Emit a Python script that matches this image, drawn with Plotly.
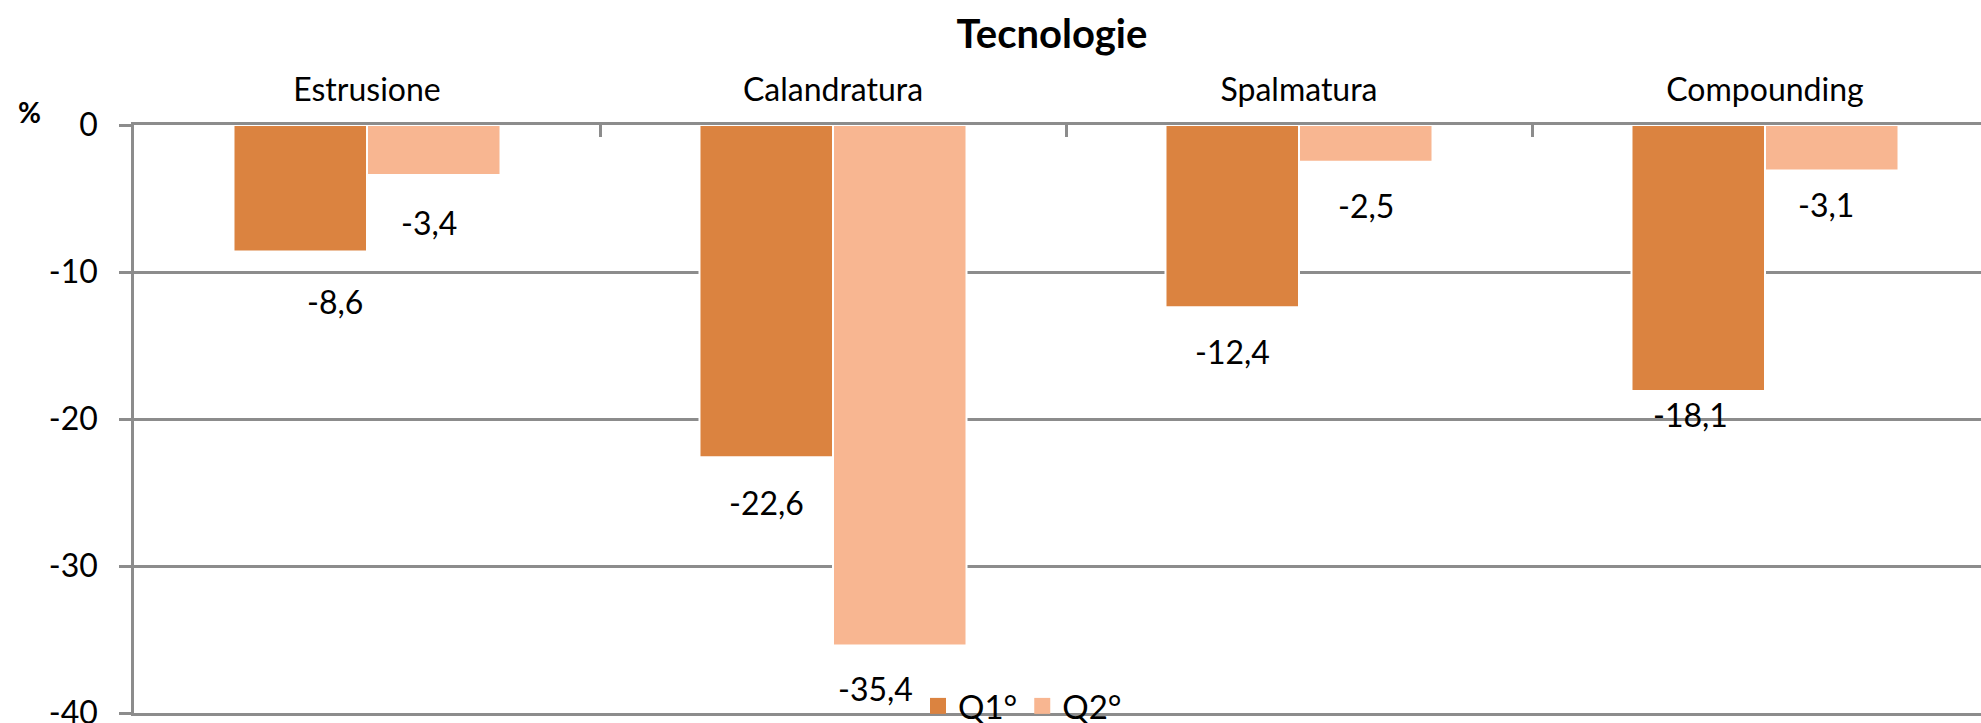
import plotly.graph_objects as go

categories = ["Estrusione", "Calandratura", "Spalmatura", "Compounding"]
q1_values = [-8.6, -22.6, -12.4, -18.1]
q2_values = [-3.4, -35.4, -2.5, -3.1]
series_names = ["Q1°", "Q2°"]
y_ticks = [0, -10, -20, -30, -40]

# label placement tweaks (pixels), mimicking the manual label positions of the original
q1_label_dx = [35, 0, 0, -8]
q1_label_dy = [50, 45, 44, 23]
q2_label_dx = [-5, -24, 0, -6]
q2_label_dy = [48, 43, 44, 34]

C1 = "#DB8340"
C2 = "#F8B691"
GRID = "#8C8C8C"
FONT = "Lato, 'Open Sans', sans-serif"
BARGAP = 0.427

W, H = 1981, 723
ML, MT, MB = 134, 125, 10
PW, PH = W - ML, H - MT - MB

fig = go.Figure()
fig.add_trace(go.Bar(name=series_names[0], x=categories, y=q1_values, showlegend=False,
                     marker=dict(color=C1, line=dict(color="white", width=2))))
fig.add_trace(go.Bar(name=series_names[1], x=categories, y=q2_values, showlegend=False,
                     marker=dict(color=C2, line=dict(color="white", width=2))))
# legend entries with larger square swatches
for name, col in zip(series_names, (C1, C2)):
    fig.add_trace(go.Scatter(name=name, x=[None], y=[None], mode="markers",
                             marker=dict(symbol="square", size=16, color=col)))

off = (1 - BARGAP) / 4
for i in range(len(categories)):
    for vals, sign, dxs, dys in ((q1_values, -1, q1_label_dx, q1_label_dy),
                                 (q2_values, 1, q2_label_dx, q2_label_dy)):
        v = vals[i]
        fig.add_annotation(x=i + sign * off, y=v, xref="x", yref="y",
                           text=f"{v:.1f}".replace(".", ","), showarrow=False,
                           xanchor="center", yanchor="middle",
                           xshift=dxs[i], yshift=-dys[i],
                           font=dict(family=FONT, size=32, color="black"))

fig.add_annotation(text="<b>%</b>", xref="paper", yref="paper",
                   x=(29 - ML) / PW, y=(MT + PH - 112) / PH,
                   xanchor="center", yanchor="middle", showarrow=False,
                   font=dict(family=FONT, size=28, color="black"))

fig.update_layout(
    width=W, height=H,
    margin=dict(l=ML, r=0, t=MT, b=MB, autoexpand=False),
    paper_bgcolor="white", plot_bgcolor="white",
    barmode="group", bargap=BARGAP, bargroupgap=0,
    font=dict(family=FONT, size=30, color="black"),
    title=dict(text="<b>Tecnologie</b>", x=1052 / W, xref="container", xanchor="center",
               y=1 - 34 / H, yref="container", yanchor="middle",
               font=dict(family=FONT, size=40, color="black")),
    showlegend=True,
    legend=dict(orientation="h", x=(918 - ML) / PW, xanchor="left", y=0.012, yanchor="middle",
                bgcolor="rgba(0,0,0,0)", font=dict(family=FONT, size=33),
                itemclick=False, traceorder="normal", itemwidth=30),
    xaxis=dict(side="top", range=[-0.5, PW / 466 - 0.5], automargin=False,
               showline=True, linecolor=GRID, linewidth=2.5, mirror=True,
               ticks="inside", tickson="boundaries", ticklen=12, tickcolor=GRID, tickwidth=2.5,
               showgrid=False, ticklabelstandoff=8,
               tickfont=dict(family=FONT, size=32, color="black")),
    yaxis=dict(range=[-40, 0], tickvals=y_ticks, ticktext=[str(t) for t in y_ticks],
               automargin=False, ticklabeloverflow="allow",
               showgrid=True, gridcolor=GRID, gridwidth=2.5, zeroline=False,
               showline=True, linecolor=GRID, linewidth=2.5,
               ticks="outside", ticklen=12, tickcolor=GRID, tickwidth=2.5,
               ticklabelstandoff=15,
               tickfont=dict(family=FONT, size=32, color="black")),
)

fig.write_html("out.html", config={"displayModeBar": False},
               post_script="document.body.style.margin='0px';document.body.style.overflow='hidden';")
